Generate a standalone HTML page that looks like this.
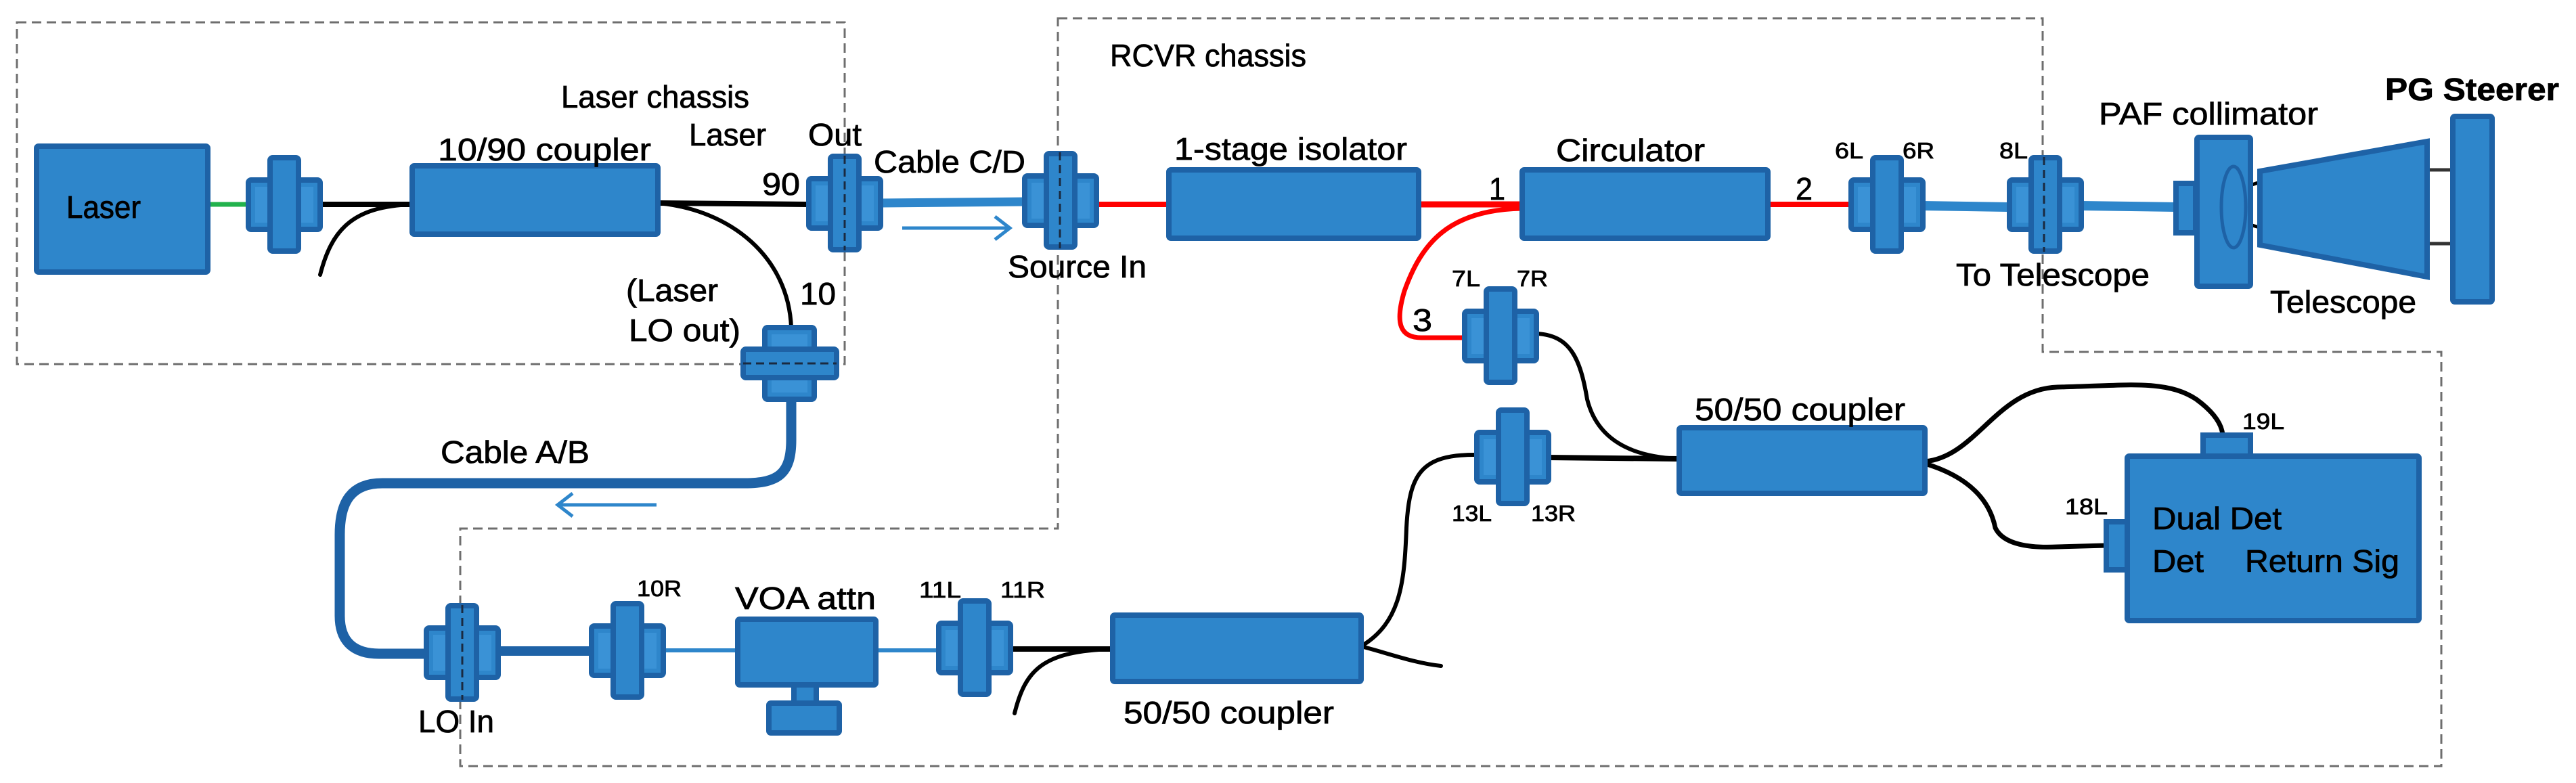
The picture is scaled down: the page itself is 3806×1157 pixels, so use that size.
<!DOCTYPE html>
<html><head><meta charset="utf-8"><style>
html,body{margin:0;padding:0;background:#fff;}
svg{display:block;}
text{font-family:"Liberation Sans Narrow","Liberation Sans",sans-serif;fill:#000;stroke:#000;stroke-width:0.8;}
</style></head><body>
<svg width="3806" height="1157" viewBox="0 0 3806 1157" xmlns="http://www.w3.org/2000/svg">
<defs>
<g id="conn">
  <rect x="-53" y="-36" width="106" height="73" rx="4" fill="#2e86cb" stroke="#1e62a6" stroke-width="8"/>
  <rect x="-43" y="-26" width="20" height="53" fill="#3a92d6"/>
  <rect x="23" y="-26" width="20" height="53" fill="#3a92d6"/>
  <rect x="-21" y="-69" width="42" height="138" rx="4" fill="#2e86cb" stroke="#1e62a6" stroke-width="8"/>
</g>
</defs>
<rect width="3806" height="1157" fill="#fff"/>

<g fill="none" stroke="#6e6e6e" stroke-width="3" stroke-dasharray="14 8">
<rect x="25" y="33" width="1223" height="505"/>
<path d="M1563,27 H3018 V520 H3607 V1132 H680 V781 H1563 Z"/>
</g>

<g fill="none" stroke-linecap="round">
<line x1="303" y1="302" x2="367" y2="302" stroke="#22b24c" stroke-width="7"/>
<path d="M473,302 H609" stroke="#000" stroke-width="8"/>
<path d="M473,406 C490,340 520,305 609,302" stroke="#000" stroke-width="6"/>
<path d="M972,300 L1194,302" stroke="#000" stroke-width="8"/>
<path d="M972,300 C1080,310 1165,380 1169,484" stroke="#000" stroke-width="6"/>
<line x1="1300" y1="300" x2="1515" y2="298" stroke="#2e86cb" stroke-width="13"/>
<line x1="1621" y1="302" x2="1727" y2="302" stroke="#ff0000" stroke-width="8"/>
<line x1="2096" y1="302" x2="2249" y2="302" stroke="#ff0000" stroke-width="9"/>
<path d="M2249,308 C2140,310 2100,360 2075,430 C2060,480 2070,499 2100,499 H2166" stroke="#ff0000" stroke-width="7"/>
<line x1="2612" y1="302" x2="2735" y2="302" stroke="#ff0000" stroke-width="8"/>
<line x1="2840" y1="304" x2="2968" y2="306" stroke="#2e86cb" stroke-width="14"/>
<line x1="3075" y1="304" x2="3217" y2="306" stroke="#2e86cb" stroke-width="14"/>
<path d="M1169,590 V650 C1169,700 1150,714 1100,714 H565 C520,714 502,740 502,790 V910 C502,950 525,966 560,966 H630" stroke="#1e62a6" stroke-width="15"/>
<line x1="734" y1="962" x2="875" y2="962" stroke="#1e62a6" stroke-width="14"/>
<line x1="980" y1="961" x2="1090" y2="961" stroke="#2e86cb" stroke-width="6"/>
<line x1="1294" y1="961" x2="1387" y2="961" stroke="#2e86cb" stroke-width="6"/>
<path d="M1493,959 H1644" stroke="#000" stroke-width="8"/>
<path d="M1499,1054 C1515,990 1540,962 1644,959" stroke="#000" stroke-width="6"/>
<path d="M2011,955 C2050,965 2090,980 2129,984" stroke="#000" stroke-width="6"/>
<path d="M2011,955 C2070,920 2075,860 2078,780 C2082,700 2100,672 2179,672" stroke="#000" stroke-width="6"/>
<path d="M2285,676 L2481,678" stroke="#000" stroke-width="8"/>
<path d="M2270,493 C2320,495 2335,530 2345,590 C2360,650 2410,675 2481,678" stroke="#000" stroke-width="6"/>
<path d="M2844,682 C2920,675 2950,575 3040,572 C3140,570 3200,560 3245,590 C3275,612 3283,630 3284,643" stroke="#000" stroke-width="7"/>
<path d="M2844,685 C2910,705 2940,740 2948,780 C2960,805 3000,810 3040,808 L3112,806" stroke="#000" stroke-width="7"/>
<line x1="3230" y1="306" x2="3342" y2="268" stroke="#000" stroke-width="5"/>
<line x1="3230" y1="306" x2="3342" y2="337" stroke="#000" stroke-width="5"/>
<line x1="3586" y1="251" x2="3624" y2="251" stroke="#333" stroke-width="5"/>
<line x1="3586" y1="360" x2="3624" y2="360" stroke="#333" stroke-width="5"/>
</g>

<g stroke="#2e86cb" stroke-width="5" fill="none">
<line x1="1333" y1="337" x2="1490" y2="337"/>
<path d="M1470,320 L1492,337 L1470,354"/>
<line x1="970" y1="746" x2="826" y2="746"/>
<path d="M846,729 L824,746 L846,763"/>
</g>

<g fill="#2e86cb" stroke="#1e62a6" stroke-width="8">
<rect x="54" y="216" width="253" height="186" rx="3"/>
<rect x="609" y="245" width="363" height="101" rx="3"/>
<rect x="1727" y="251" width="369" height="101" rx="3"/>
<rect x="2249" y="251" width="363" height="101" rx="3"/>
<rect x="1090" y="915" width="204" height="97" rx="3"/>
<rect x="1173" y="1012" width="33" height="27"/>
<rect x="1136" y="1039" width="104" height="44" rx="3"/>
<rect x="1644" y="909" width="367" height="98" rx="3"/>
<rect x="2481" y="632" width="363" height="97" rx="3"/>
<rect x="3255" y="643" width="70" height="31"/>
<rect x="3112" y="771" width="33" height="71"/>
<rect x="3143" y="674" width="431" height="243" rx="3"/>
<rect x="3215" y="271" width="29" height="73"/>
<rect x="3246" y="203" width="79" height="220" rx="3"/>
<polygon points="3339,253 3586,209 3586,409 3339,362"/>
<rect x="3624" y="172" width="58" height="274" rx="3"/>
</g>
<ellipse cx="3300" cy="306" rx="18" ry="60" fill="none" stroke="#1e62a6" stroke-width="5"/>

<use href="#conn" x="420" y="302"/>
<use href="#conn" x="1248" y="300"/>
<use href="#conn" x="1567" y="296"/>
<use href="#conn" x="683" y="964"/>
<use href="#conn" x="927" y="961"/>
<use href="#conn" x="1440" y="957"/>
<use href="#conn" x="2217" y="496"/>
<use href="#conn" x="2235" y="675"/>
<use href="#conn" x="2788" y="302"/>
<use href="#conn" x="3022" y="302"/>
<g transform="translate(1167,537) rotate(90)"><use href="#conn"/></g>

<g stroke="#1a2a40" stroke-width="3" stroke-dasharray="12 7">
<line x1="1248" y1="230" x2="1248" y2="370"/>
<line x1="1566" y1="225" x2="1566" y2="367"/>
<line x1="683" y1="894" x2="683" y2="1034"/>
<line x1="3020" y1="232" x2="3020" y2="372"/>
<line x1="1098" y1="537" x2="1236" y2="537"/>
</g>

<g font-size="46">
<text x="98" y="322" textLength="110" lengthAdjust="spacingAndGlyphs">Laser</text>
<text x="647" y="237" textLength="315" lengthAdjust="spacingAndGlyphs">10/90 coupler</text>
<text x="829" y="159" textLength="278" lengthAdjust="spacingAndGlyphs">Laser chassis</text>
<text x="1018" y="215" textLength="114" lengthAdjust="spacingAndGlyphs">Laser</text>
<text x="1194" y="215" textLength="79" lengthAdjust="spacingAndGlyphs">Out</text>
<text x="1126" y="288" textLength="56" lengthAdjust="spacingAndGlyphs">90</text>
<text x="1182" y="450" textLength="53" lengthAdjust="spacingAndGlyphs">10</text>
<text x="925" y="445" textLength="136" lengthAdjust="spacingAndGlyphs">(Laser</text>
<text x="929" y="504" textLength="165" lengthAdjust="spacingAndGlyphs">LO out)</text>
<text x="1291" y="255" textLength="224" lengthAdjust="spacingAndGlyphs">Cable C/D</text>
<text x="1640" y="98" textLength="290" lengthAdjust="spacingAndGlyphs">RCVR chassis</text>
<text x="1489" y="410" textLength="205" lengthAdjust="spacingAndGlyphs">Source In</text>
<text x="1735" y="236" textLength="344" lengthAdjust="spacingAndGlyphs">1-stage isolator</text>
<text x="2299" y="238" textLength="220" lengthAdjust="spacingAndGlyphs">Circulator</text>
<text x="2200" y="295" textLength="24" lengthAdjust="spacingAndGlyphs">1</text>
<text x="2653" y="295" textLength="25" lengthAdjust="spacingAndGlyphs">2</text>
<text x="2087" y="489" textLength="29" lengthAdjust="spacingAndGlyphs">3</text>
<text x="2890" y="422" textLength="286" lengthAdjust="spacingAndGlyphs">To Telescope</text>
<text x="3101" y="184" textLength="324" lengthAdjust="spacingAndGlyphs">PAF collimator</text>
<text x="3524" y="148" textLength="257" lengthAdjust="spacingAndGlyphs" font-weight="bold">PG Steerer</text>
<text x="3354" y="462" textLength="216" lengthAdjust="spacingAndGlyphs">Telescope</text>
<text x="651" y="684" textLength="220" lengthAdjust="spacingAndGlyphs">Cable A/B</text>
<text x="1086" y="900" textLength="208" lengthAdjust="spacingAndGlyphs">VOA attn</text>
<text x="618" y="1082" textLength="112" lengthAdjust="spacingAndGlyphs">LO In</text>
<text x="1660" y="1069" textLength="311" lengthAdjust="spacingAndGlyphs">50/50 coupler</text>
<text x="2504" y="621" textLength="311" lengthAdjust="spacingAndGlyphs">50/50 coupler</text>
<text x="3180" y="782" textLength="191" lengthAdjust="spacingAndGlyphs">Dual Det</text>
<text x="3180" y="845" textLength="76" lengthAdjust="spacingAndGlyphs">Det</text>
<text x="3317" y="845" textLength="228" lengthAdjust="spacingAndGlyphs">Return Sig</text>
</g>
<g font-size="33">
<text x="2145" y="423" textLength="42" lengthAdjust="spacingAndGlyphs">7L</text>
<text x="2241" y="423" textLength="46" lengthAdjust="spacingAndGlyphs">7R</text>
<text x="2711" y="234" textLength="42" lengthAdjust="spacingAndGlyphs">6L</text>
<text x="2811" y="234" textLength="47" lengthAdjust="spacingAndGlyphs">6R</text>
<text x="2954" y="234" textLength="42" lengthAdjust="spacingAndGlyphs">8L</text>
<text x="941" y="881" textLength="66" lengthAdjust="spacingAndGlyphs">10R</text>
<text x="1358" y="883" textLength="62" lengthAdjust="spacingAndGlyphs">11L</text>
<text x="1478" y="883" textLength="66" lengthAdjust="spacingAndGlyphs">11R</text>
<text x="2145" y="770" textLength="59" lengthAdjust="spacingAndGlyphs">13L</text>
<text x="2262" y="770" textLength="66" lengthAdjust="spacingAndGlyphs">13R</text>
<text x="3313" y="634" textLength="62" lengthAdjust="spacingAndGlyphs">19L</text>
<text x="3051" y="760" textLength="63" lengthAdjust="spacingAndGlyphs">18L</text>
</g>
</svg>
</body></html>
